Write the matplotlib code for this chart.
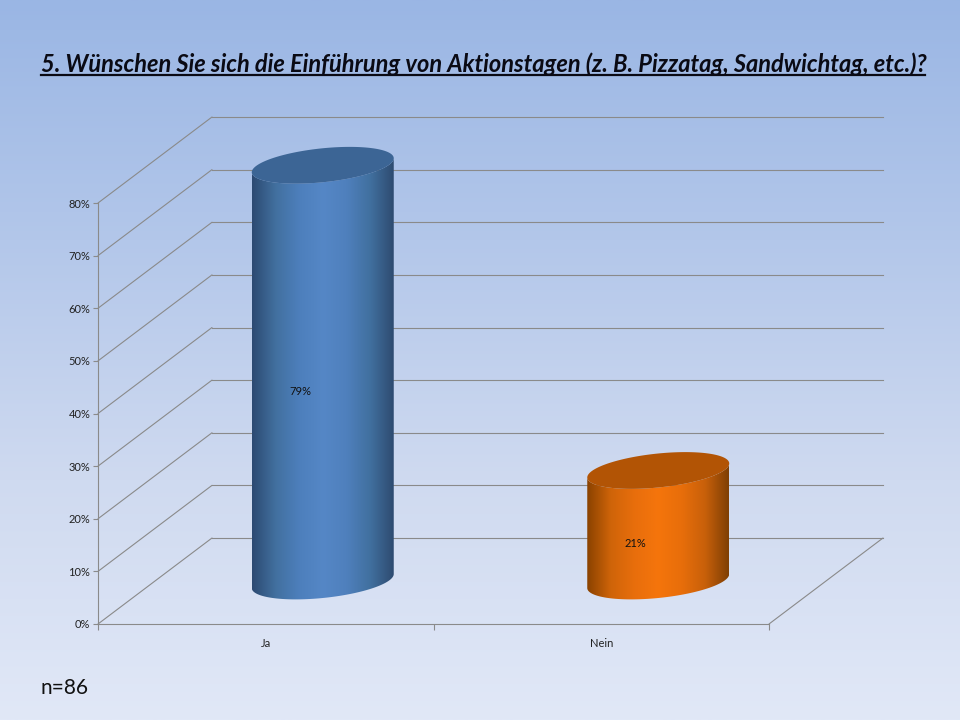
import numpy as np
import matplotlib
matplotlib.use("Agg")
import matplotlib.pyplot as plt
from matplotlib.colors import LinearSegmentedColormap
from matplotlib.patches import Polygon
from matplotlib.transforms import Affine2D

categories = ["Ja", "Nein"]
values = [79, 21]
value_labels = ["79%", "21%"]
yticks = [0, 10, 20, 30, 40, 50, 60, 70, 80]
ytick_labels = ["0%", "10%", "20%", "30%", "40%", "50%", "60%", "70%", "80%"]
title = "5. Wünschen Sie sich die Einführung von Aktionstagen (z. B. Pizzatag, Sandwichtag, etc.)?"
note = "n=86"

body_colors = [
    ["#2c4a72", "#42709f", "#4d7fbc", "#5587c6", "#4f80bd", "#41709f", "#2e4b70"],
    ["#8a4200", "#cf6409", "#e86e0c", "#f5750c", "#e86e0a", "#c8600a", "#7f3f04"],
]
cap_colors = ["#3c6595", "#b25405"]

plt.rcParams["font.family"] = ["Lato", "DejaVu Sans"]
W, H = 960, 720
fig = plt.figure(figsize=(W / 100, H / 100), dpi=100)

# background
bg = fig.add_axes([0, 0, 1, 1], zorder=0)
bg_cmap = LinearSegmentedColormap.from_list("bg", ["#9ab6e4", "#b3c7ea", "#cfdaf0", "#e1e8f7"])
bg.imshow(np.linspace(0, 1, 256)[:, None], cmap=bg_cmap, aspect="auto")
bg.axis("off")

# plotting area
ax = fig.add_axes([98 / W, (H - 624) / H, 671 / W, 421 / H], zorder=1)
ax.patch.set_alpha(0)
ax.set_xlim(-0.5, 1.5)
ax.set_ylim(0, 80)

DX, DY = 114, 86   # depth of the box, px
def tr(f):
    return ax.transData + Affine2D().translate(DX * f, DY * f)

grid_c = "#8a8a8a"
LW = 0.8
def depth_edge(x, v):
    ax.annotate("", xy=(x, v), xycoords=tr(1), xytext=(x, v), textcoords=ax.transData,
                arrowprops=dict(arrowstyle="-", color=grid_c, lw=LW, shrinkA=0, shrinkB=0), zorder=1)

for v in yticks:
    ax.plot([-0.5, 1.5], [v, v], color=grid_c, lw=LW, transform=tr(1), clip_on=False, zorder=1)
    depth_edge(-0.5, v)
depth_edge(1.5, 0)

# cylinders
half_w = 0.2116
t = np.linspace(0, 2 * np.pi, 241)
px_per_pct = 421 / 80
def ring(cx, v, t):
    return cx + half_w * np.cos(t), v + (7 * np.cos(t) + 17 * np.sin(t)) / px_per_pct

for i, v in enumerate(values):
    tf = tr(0.5)
    front = np.linspace(np.pi, 2 * np.pi, 121)
    xt, yt = ring(i, v, front)
    xb, yb = ring(i, 0, front)
    body = Polygon(np.r_[np.c_[xt, yt], np.c_[xb, yb][::-1]], closed=True,
                   transform=tf, facecolor="none", edgecolor="none", clip_on=False)
    ax.add_patch(body)
    cmap = LinearSegmentedColormap.from_list("b", body_colors[i])
    im = ax.imshow(np.linspace(0, 1, 256)[None, :], cmap=cmap, aspect="auto",
                   extent=(i - half_w, i + half_w, -6, v + 6), transform=tf, zorder=3)
    im.set_clip_box(fig.bbox)
    im.set_clip_path(body)
    xc, yc = ring(i, v, t)
    ax.fill(xc, yc, color=cap_colors[i], transform=tf, zorder=4, clip_on=False, lw=0)
    ax.text(i, v / 2, value_labels[i], transform=tr(0.3), ha="center", va="center_baseline",
            fontsize=8, color="#111111", zorder=5)

ax.set_xlim(-0.5, 1.5)
ax.set_ylim(0, 80)

# axes
for s in ("top", "right"):
    ax.spines[s].set_visible(False)
for s in ("left", "bottom"):
    ax.spines[s].set_color(grid_c)
    ax.spines[s].set_linewidth(LW)
ax.set_yticks(yticks)
ax.set_yticklabels(ytick_labels, fontsize=8, color="#222222")
ax.tick_params(axis="y", length=3.5, width=0.8, color=grid_c, pad=2)
ax.set_xticks(range(len(categories)))
ax.set_xticklabels(categories, fontsize=8, color="#222222")
ax.set_xticks([-0.5, 0.5, 1.5], minor=True)
ax.tick_params(axis="x", which="major", length=0, pad=10)
ax.tick_params(axis="x", which="minor", length=4, width=0.8, color=grid_c)

# title and note
fig.text(41 / W, 1 - 72 / H, title, fontsize=17, fontweight="bold", style="italic",
         color="#0a0a14", ha="left", va="baseline")
fig.add_artist(plt.Line2D([41 / W, 925 / W], [1 - 75 / H] * 2, color="#0a0a14", lw=1.6))
fig.text(41 / W, 1 - 694 / H, note, fontsize=15, color="#111111", ha="left", va="baseline")

fig.savefig("out.png", dpi=100)
